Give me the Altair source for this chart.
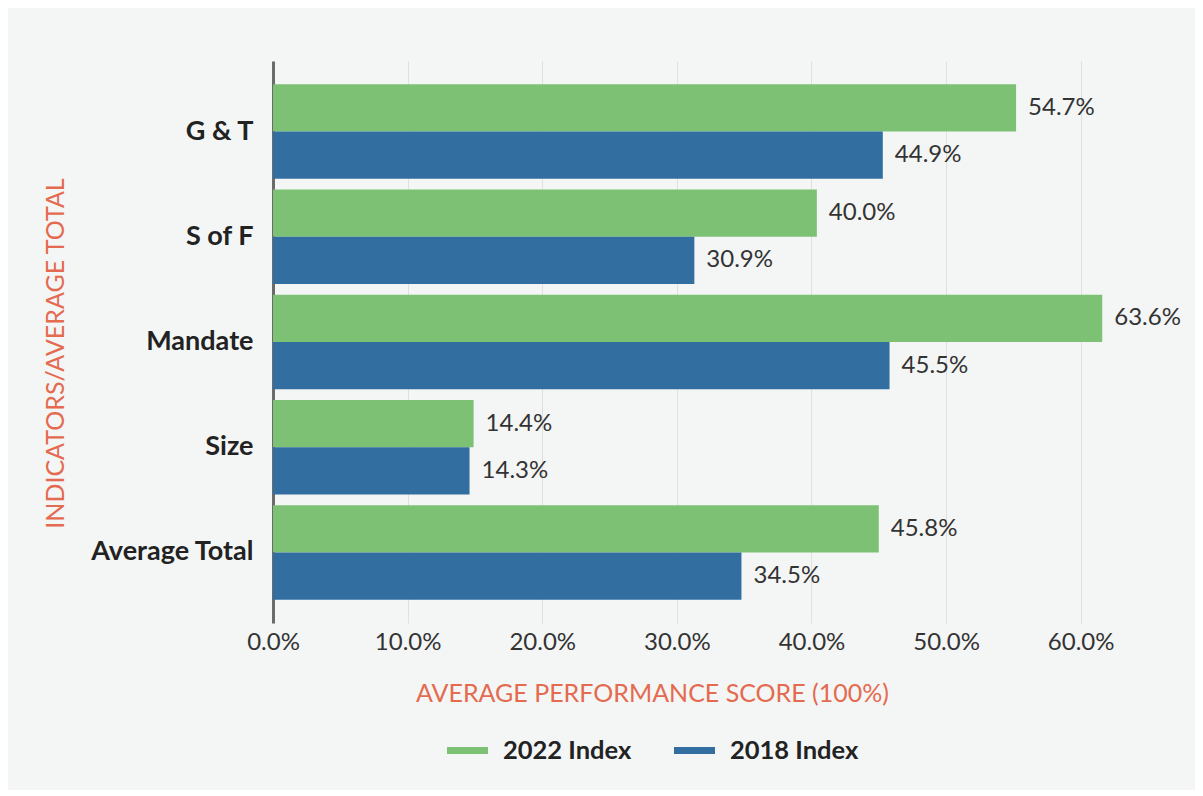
import altair as alt
import pandas as pd

categories = ["G & T", "S of F", "Mandate", "Size", "Average Total"]
series = ["2022 Index", "2018 Index"]
# bar lengths as drawn in the reference (percent)
bars_2022 = [55.2, 40.4, 61.6, 14.9, 45.0]
bars_2018 = [45.3, 31.3, 45.8, 14.6, 34.8]
# value labels as printed in the reference
labels_2022 = ["54.7%", "40.0%", "63.6%", "14.4%", "45.8%"]
labels_2018 = ["44.9%", "30.9%", "45.5%", "14.3%", "34.5%"]
tick_values = [0, 10, 20, 30, 40, 50, 60]
colors = ["#7dc175", "#336ea0"]

rows = []
for c, b1, b2, l1, l2 in zip(categories, bars_2022, bars_2018, labels_2022, labels_2018):
    rows.append({"cat": c, "series": series[0], "value": b1 / 100, "label": l1})
    rows.append({"cat": c, "series": series[1], "value": b2 / 100, "label": l2})
df = pd.DataFrame(rows)

FONT = "Lato"
TITLE_COLOR = "#e46a50"

x = alt.X("value:Q",
          scale=alt.Scale(domain=[0, 0.65], nice=False),
          axis=alt.Axis(values=[t / 100 for t in tick_values], format=".1%",
                        title="AVERAGE PERFORMANCE SCORE (100%)",
                        titleX=379, titleY=78, titleBaseline="alphabetic",
                        titleColor=TITLE_COLOR, titleFont=FONT, titleFontSize=25,
                        titleFontWeight="normal",
                        labelFont=FONT, labelFontSize=24, labelColor="#333333",
                        labelPadding=7, labelFlush=False, domain=False, ticks=False,
                        grid=True, gridColor="#e0e0e0", gridWidth=1))
y = alt.Y("cat:N", sort=categories,
          scale=alt.Scale(paddingInner=0.1, paddingOuter=0.22),
          axis=alt.Axis(title="INDICATORS/AVERAGE TOTAL",
                        titleX=-210, titleY=292, titleAngle=270,
                        titleBaseline="alphabetic",
                        titleColor=TITLE_COLOR, titleFont=FONT, titleFontSize=25,
                        titleFontWeight="normal",
                        labelFont=FONT, labelFontSize=27, labelFontWeight="bold",
                        labelColor="#222222", labelPadding=20, ticks=False,
                        domain=True, domainColor="#6b6b6b", domainWidth=3,
                        grid=False))
yoff = alt.YOffset("series:N", sort=series,
                   scale=alt.Scale(paddingInner=0, paddingOuter=0))

base = alt.Chart(df)
bars = base.mark_bar().encode(
    x=x, y=y, yOffset=yoff,
    color=alt.Color("series:N", sort=series,
                    scale=alt.Scale(domain=series, range=colors),
                    legend=alt.Legend(title=None, orient="none", direction="horizontal",
                                      legendX=174, legendY=669,
                                      symbolType="M-1,-0.17L1,-0.17L1,0.17L-1,0.17Z",
                                      symbolSize=1681, symbolStrokeWidth=0,
                                      labelFont=FONT, labelFontSize=25.5,
                                      labelFontWeight="bold", labelColor="#222222",
                                      labelOffset=15, columnPadding=42,
                                      labelLimit=300)),
)
text = base.mark_text(align="left", baseline="middle", dx=12, font=FONT,
                      fontSize=24, color="#333333").encode(
    x="value:Q", y=alt.Y("cat:N", sort=categories), yOffset=yoff, text="label:N")

chart = alt.layer(bars, text).properties(
    width=875, height=562,
    background="#f4f6f5",
    padding={"left": 265, "top": 53, "right": 47, "bottom": 167},
    autosize=alt.AutoSizeParams(type="none"),
).configure_view(stroke=None)

chart.save("out.html", embed_options={"renderer": "svg", "actions": False})
